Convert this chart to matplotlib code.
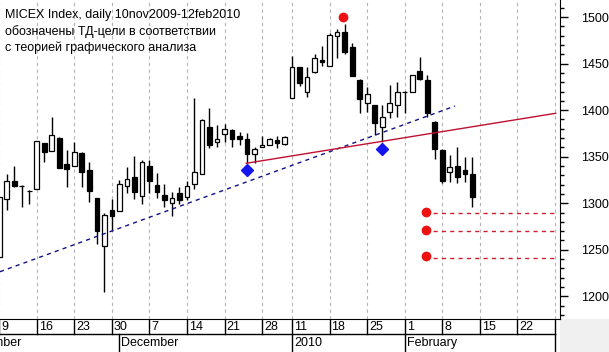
import numpy as np
import matplotlib
matplotlib.use("Agg")
import matplotlib.pyplot as plt
from matplotlib.patches import Rectangle

plt.rcParams['font.family'] = ['Liberation Sans', 'DejaVu Sans']

# daily candles, one per trading day (index 0 = 9 nov 2009)
opens = [1242, 1305, 1324, 1318.5, 1313.5, 1315, 1364.5, 1356.5, 1370, 1342,
         1340.5, 1354, 1335.5, 1305.5, 1253.5, 1292.5, 1292, 1319, 1328.5, 1308,
         1340.5, 1319.5, 1309, 1300, 1310.5, 1307, 1320.5, 1331, 1381.5, 1365.5,
         1374, 1378.5, 1372, 1368.5, 1352.5, 1360.5, 1362.5, 1368, 1363.5, 1412.5,
         1446, 1419, 1441, 1454, 1447.5, 1479.5, 1483.5, 1467.5, 1432.5, 1407.5,
         1405.5, 1382, 1397.5, 1406, 1420, 1419, 1442, 1432.5, 1387.5, 1357,
         1333, 1340, 1335.5, 1331.5]
highs = [1307, 1331, 1340, 1319.5, 1314, 1367, 1364.5, 1393, 1371, 1357,
         1366, 1355, 1344.5, 1306, 1289, 1305, 1325, 1339, 1350.5, 1346.5,
         1346.5, 1332, 1320.5, 1312.5, 1317.5, 1324, 1412.5, 1390, 1402, 1384,
         1385, 1380, 1377, 1375.5, 1360.5, 1372, 1370, 1372, 1372, 1458,
         1446.5, 1446.5, 1460, 1469, 1483, 1487, 1492.5, 1472.5, 1433, 1424.5,
         1406, 1405.5, 1427, 1430.5, 1420.5, 1438, 1457.5, 1437.5, 1388, 1358,
         1352, 1360, 1349.5, 1349.5]
lows = [1242, 1293, 1317, 1296, 1299, 1315, 1344.5, 1356.5, 1337.5, 1317,
        1340.5, 1317, 1301.5, 1256, 1205, 1270, 1292, 1311, 1305, 1299,
        1310.5, 1305.5, 1296, 1286.5, 1299, 1303.5, 1315, 1331, 1359, 1360.5,
        1366, 1360.5, 1362.5, 1343, 1343.5, 1360, 1362, 1359, 1362, 1412.5,
        1426, 1414.5, 1440, 1447.5, 1447, 1456.5, 1460.5, 1437, 1396.5, 1398.5,
        1373.5, 1366, 1391, 1393, 1397, 1419, 1432, 1392.5, 1347, 1321.5,
        1323, 1321.5, 1323, 1296]
closes = [1307, 1324, 1318, 1318.5, 1313.5, 1367, 1355.5, 1373.5, 1337.5, 1336.5,
          1355.5, 1333, 1313.5, 1270.5, 1287.5, 1286.5, 1320.5, 1326.5, 1312.5, 1344,
          1324, 1312.5, 1303.5, 1305.5, 1303.5, 1318.5, 1333, 1389.5, 1362, 1369.5,
          1379.5, 1368.5, 1368.5, 1353, 1358, 1362.5, 1369.5, 1364.5, 1371, 1446,
          1429.5, 1436, 1456.5, 1451.5, 1480.5, 1484, 1462.5, 1437, 1412, 1417,
          1386.5, 1392.5, 1407.5, 1420, 1420, 1437.5, 1433, 1397, 1358, 1324,
          1339, 1328.5, 1331, 1307]

# x axis: mondays (trading day index) and their day numbers
week_idx = [0, 5, 10, 15, 20, 25, 30, 35, 39, 44, 49, 54, 59, 64, 69, 74]
week_lbl = ['9', '16', '23', '30', '7', '14', '21', '28', '11', '18', '25',
            '1', '8', '15', '22', '']
month_idx = [-5, 16, 39, 54, 74]
month_lbl = ['November', 'December', '2010', 'February', '']

# chart analysis marks
support_x = [0.1, 60.7]
support_y = [1226.4, 1404.4]
trend_x = [32.9, 74.1]
trend_y = [1342.9, 1396.6]
top_dot = (45.8, 1500)
low_marks_x = [33, 51]
low_marks_y = [1335.7, 1358.2]
target_x = 56.8
target_dots = [1291, 1271, 1243]
target_lines = [1289, 1270, 1241.5]

W, H = 609, 352
fig = plt.figure(figsize=(W / 100, H / 100), dpi=100)
ax = fig.add_axes([0, 33 / H, 560 / W, 319 / H])
xmin, xmax = 0.107, 74.67
ax.set_xlim(xmin, xmax)
ax.set_ylim(1175.6, 1518.3)

for i in week_idx:
    ax.axvline(i, color='#b4b4b4', lw=0.8, ls=(0, (3, 3)), zorder=0)

x = np.arange(len(opens))
o = np.array(opens)
c = np.array(closes)
ax.vlines(x, lows, highs, color='black', lw=1, zorder=2)
up = c > o
bottoms = np.minimum(o, c)
heights = np.abs(c - o)
ax.bar(x, heights, bottom=bottoms, width=0.62,
       color=np.where(up, 'white', 'black'), edgecolor='black', lw=0.9, zorder=3)

ax.plot(support_x, support_y, color='#10108a', lw=1, ls=(0, (3, 3)), zorder=4)
ax.plot(trend_x, trend_y, color='#c01030', lw=1, zorder=4)
ax.plot(*top_dot, 'o', color='#ee1111', ms=6, zorder=5)
ax.plot(low_marks_x, low_marks_y, 'D', color='#1515ee', ms=6, zorder=5)
ax.plot([target_x] * 3, target_dots, 'o', color='#ee1111', ms=6, zorder=5)
for v in target_lines:
    ax.plot([57.8, 74.1], [v, v], color='#d02030', lw=1, ls=(0, (3, 3)), zorder=4)

ax.yaxis.tick_right()
ax.set_yticks(range(1200, 1501, 50))
ax.set_yticks(range(1180, 1520, 10), minor=True)
ax.tick_params(axis='y', which='major', length=6, width=1, pad=9, labelsize=9)
ax.tick_params(axis='y', which='minor', length=3, width=1)
ax.set_xticks([])
for s in ['left', 'top']:
    ax.spines[s].set_visible(False)

fig.text(5 / W, 1 - 15 / H, 'MICEX Index, daily 10nov2009-12feb2010', fontsize=9, va='center')
fig.text(5 / W, 1 - 32 / H, 'обозначены ТД-цели в соответствии', fontsize=9, va='center')
fig.text(5 / W, 1 - 48 / H, 'с теорией графического анализа', fontsize=9, va='center')

# date strip below the chart
bx = fig.add_axes([0, 0, 560 / W, 33 / H])
bx.set_xlim(xmin, xmax)
bx.set_ylim(0, 33)
bx.axis('off')
bx.plot([xmin, 74], [18, 18], color='black', lw=1)
for i, t in zip(week_idx, week_lbl):
    bx.plot([i, i], [18, 33], color='black', lw=1)
    bx.text(i + 0.25, 25.5, t, fontsize=9, va='center', ha='left', clip_on=True)
for i, t in zip(month_idx, month_lbl):
    bx.plot([i, i], [0, 18], color='black', lw=1)
    bx.text(i + 0.25, 9, t, fontsize=9, va='center', ha='left', clip_on=True)

fig.patches.append(Rectangle((560 / W, 0), 1 - 560 / W, 33 / H,
                             transform=fig.transFigure, color='#f0f0f0', zorder=-1))

fig.savefig('out.png', dpi=100)
